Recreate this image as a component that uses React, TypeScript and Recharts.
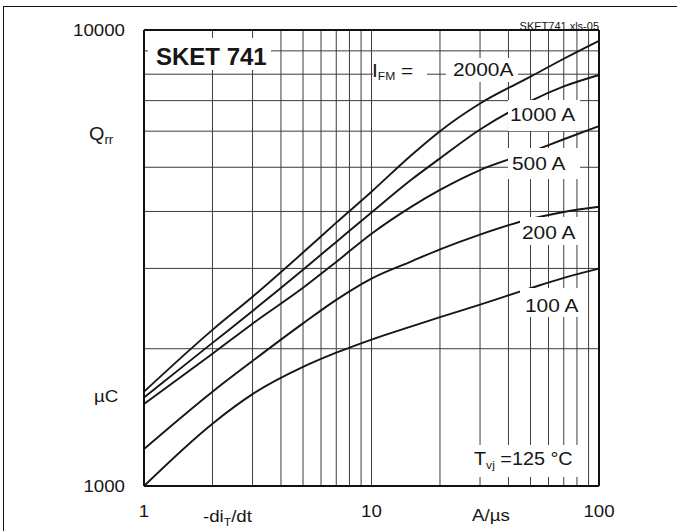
import * as React from 'react'
import { LineChart, Line, XAxis, YAxis, ReferenceLine } from 'recharts'

// -di/dt in A/us
const diDt = [1, 2, 3, 5, 7, 10, 15, 20, 30, 50, 70, 100]
// Qrr in uC, one array per I_FM curve
const q2000 = [1610, 2200, 2600, 3250, 3780, 4420, 5320, 6000, 6900, 7900, 8650, 9470]
const q1000 = [1563, 2060, 2420, 2980, 3430, 3980, 4700, 5230, 6050, 6985, 7520, 7967]
const q500 = [1513, 1950, 2270, 2720, 3100, 3575, 4100, 4460, 4930, 5401, 5760, 6156]
const q200 = [1205, 1610, 1880, 2273, 2560, 2850, 3110, 3304, 3560, 3851, 3990, 4097]
const q100 = [1000, 1370, 1590, 1824, 1960, 2095, 2240, 2345, 2500, 2715, 2860, 2996]

const xTicks = [1, 10, 100]
const yTicks = [1000, 10000]
const xGrid = [2, 3, 4, 5, 6, 7, 8, 9, 20, 30, 40, 50, 60, 70, 80, 90]
const yGrid = [2000, 3000, 4000, 5000, 6000, 7000, 8000, 9000]

const series = [
  { key: 'i2000', values: q2000 },
  { key: 'i1000', values: q1000 },
  { key: 'i500', values: q500 },
  { key: 'i200', values: q200 },
  { key: 'i100', values: q100 },
]

const data = diDt.map((x, i) => {
  const row: Record<string, number> = { x }
  series.forEach((s) => (row[s.key] = s.values[i]))
  return row
})

const FONT = '"Liberation Sans", Arial, Helvetica, sans-serif'
const SX = 1.1
const INK = '#161616'
const GRID = '#3c3c3c'

function T({ x, y, size = 19, anchor = 'start', weight = 'normal', sx = SX, children }: any) {
  return (
    <text
      transform={`translate(${x} ${y}) scale(${sx} 1)`}
      fontSize={size}
      textAnchor={anchor}
      fontWeight={weight}
      fontFamily={FONT}
      fill={INK}
    >
      {children}
    </text>
  )
}

const XTick = ({ x, payload }: any) => <T x={x} y={517} size={17} anchor="middle">{payload.value}</T>
const YTick = ({ y, payload }: any) => <T x={125} y={y + 6} size={17} anchor="end">{payload.value}</T>

// white boxes behind the in-plot labels
const boxes = [
  [148, 38, 123, 32],
  [373, 58, 54, 26],
  [446, 58, 72, 24],
  [508, 100, 72, 31],
  [508, 148, 72, 31],
  [520, 217, 58, 28],
  [520, 288, 58, 29],
  [472, 445, 106, 32],
]

export default function App() {
  return (
    <div style={{ position: 'absolute', left: 0, top: 0, width: 677, height: 531, overflow: 'hidden', background: '#fff' }}>
      <div style={{ position: 'absolute', left: 3, top: 6, width: 720, height: 600, borderLeft: '1.5px solid #111', borderTop: '1.5px solid #111' }} />
      <LineChart width={677} height={531} data={data} margin={{ top: 30, right: 78, bottom: 0, left: 0 }}>
        <XAxis
          dataKey="x"
          type="number"
          scale="log"
          domain={[1, 100]}
          ticks={xTicks}
          interval={0}
          height={45}
          axisLine={false}
          tickLine={false}
          tick={<XTick />}
        />
        <YAxis
          type="number"
          scale="log"
          domain={[1000, 10000]}
          ticks={yTicks}
          interval={0}
          width={144}
          axisLine={false}
          tickLine={false}
          tick={<YTick />}
        />
        {xGrid.map((v) => (
          <ReferenceLine key={'gx' + v} x={v} stroke={GRID} strokeWidth={1} />
        ))}
        {yGrid.map((v) => (
          <ReferenceLine key={'gy' + v} y={v} stroke={GRID} strokeWidth={1} />
        ))}
        <ReferenceLine x={10} stroke={GRID} strokeWidth={1} />
        {series.map((s) => (
          <Line
            key={s.key}
            dataKey={s.key}
            type="monotone"
            stroke={INK}
            strokeWidth={1.9}
            dot={false}
            isAnimationActive={false}
          />
        ))}
        <ReferenceLine x={1} stroke="#111" strokeWidth={2} />
        <ReferenceLine x={100} stroke="#111" strokeWidth={2} />
        <ReferenceLine y={1000} stroke="#111" strokeWidth={2} />
        <ReferenceLine y={10000} stroke="#111" strokeWidth={2} />
      </LineChart>
      <svg width={677} height={531} style={{ position: 'absolute', left: 0, top: 0, pointerEvents: 'none' }}>
        {boxes.map(([x, y, w, h], i) => (
          <rect key={i} x={x} y={y} width={w} height={h} fill="#fff" />
        ))}
        <T x={156} y={65} size={24} weight="bold" sx={1}>SKET 741</T>
        <T x={599} y={30} size={10} anchor="end">SKET741.xls-05</T>
        <T x={372} y={77} size={19}>
          I<tspan fontSize={11} dy={3}>FM</tspan>
          <tspan dy={-3}> =</tspan>
        </T>
        <T x={453} y={76} size={19}>2000A</T>
        <T x={510} y={121} size={19}>1000 A</T>
        <T x={512} y={170} size={19}>500 A</T>
        <T x={522} y={239} size={19}>200 A</T>
        <T x={525} y={312} size={19}>100 A</T>
        <T x={474} y={465} size={18}>
          T<tspan fontSize={11} dy={4}>vj</tspan>
          <tspan dy={-4}> =125 °C</tspan>
        </T>
        <T x={89} y={140} size={18}>
          Q<tspan fontSize={12} dy={4}>rr</tspan>
        </T>
        <T x={94} y={402} size={17}>µC</T>
        <T x={203} y={522} size={17}>
          -di<tspan fontSize={11} dy={4}>T</tspan>
          <tspan dy={-4}>/dt</tspan>
        </T>
        <T x={472} y={521} size={17}>A/µs</T>
      </svg>
    </div>
  )
}
